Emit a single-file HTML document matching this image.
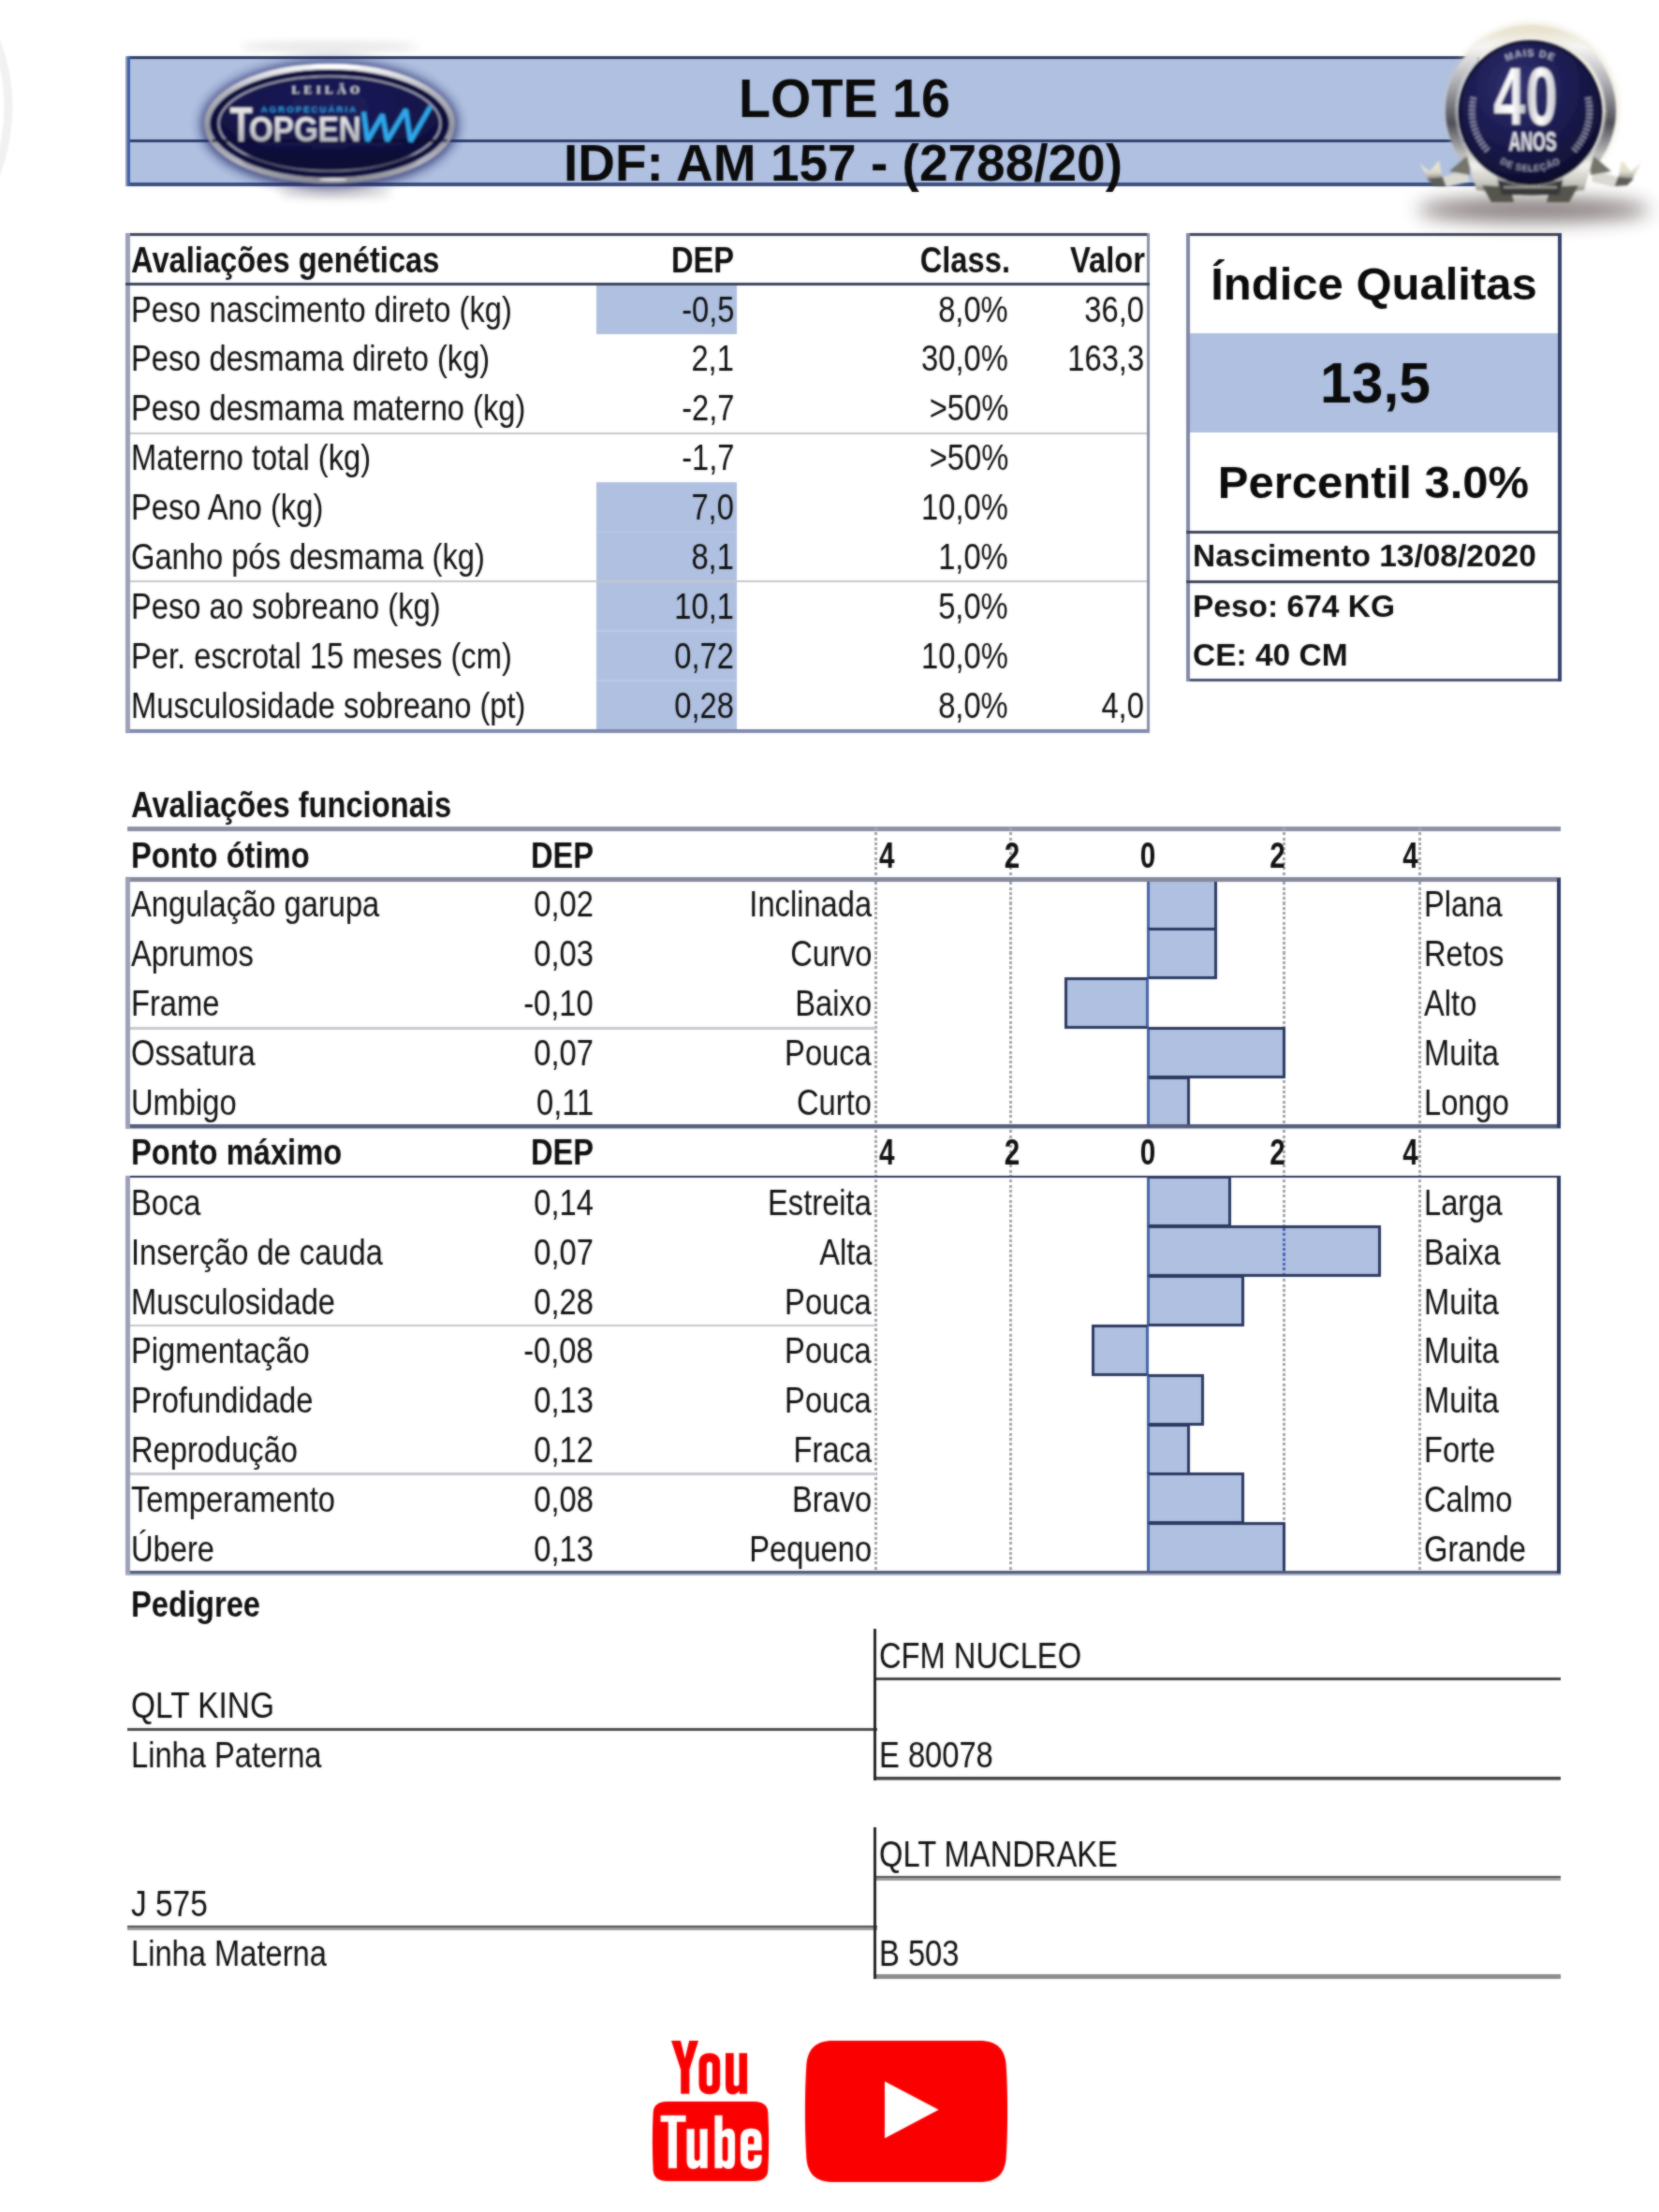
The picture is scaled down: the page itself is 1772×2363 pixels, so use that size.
<!DOCTYPE html>
<html><head><meta charset="utf-8"><title>Lote 16</title>
<style>
html,body{margin:0;padding:0;background:#fff;}
body{width:1772px;height:2363px;position:relative;overflow:hidden;font-family:"Liberation Sans",sans-serif;}
#pg{position:absolute;left:0;top:0;width:1772px;height:2363px;filter:url(#soft);}
.t{position:absolute;white-space:nowrap;line-height:1;}
.r{position:absolute;}
.bar{position:absolute;box-sizing:border-box;background:#afc0e0;border:3px solid #2b3961;}
.dot{position:absolute;width:3px;background-image:repeating-linear-gradient(to bottom,#a2a4ab 0,#a2a4ab 3px,transparent 3px,transparent 5.3px);}
svg{position:absolute;left:0;top:0;overflow:visible;}
</style></head><body><svg width="0" height="0" style="position:absolute"><defs><filter id="soft" x="0" y="0" width="100%" height="100%" color-interpolation-filters="sRGB"><feGaussianBlur stdDeviation="0.85" result="b"/><feComposite in="b" in2="SourceGraphic" operator="arithmetic" k1="0" k2="0.55" k3="0.45" k4="0"/></filter></defs></svg><div id="pg">
<div class="r" style="left:133.50px;top:60.00px;width:1446.50px;height:139.00px;background:#afc0e0;"></div>
<div class="r" style="left:133.50px;top:60.00px;width:1446.50px;height:3.20px;background:#2b3a5e;"></div>
<div class="r" style="left:133.50px;top:148.80px;width:1446.50px;height:3.20px;background:#2c3f6e;"></div>
<div class="r" style="left:133.50px;top:195.00px;width:1446.50px;height:3.50px;background:#3c4f80;"></div>
<div class="r" style="left:133.50px;top:60.00px;width:2.50px;height:139.00px;background:#8f9cc0;"></div>
<div class="r" style="left:136.00px;top:60.00px;width:3.00px;height:139.00px;background:#4060a8;"></div>
<div class="t" style="font-size:56.5px;font-weight:700;color:#0b0b0b;top:78.47px;left:902.00px;transform:translateX(-50%) scaleX(0.985);transform-origin:50% 0;">LOTE 16</div>
<div class="t" style="font-size:55px;font-weight:700;color:#0b0b0b;top:147.04px;left:900.50px;transform:translateX(-50%) scaleX(1.0);transform-origin:50% 0;">IDF: AM 157 - (2788/20)</div>
<div class="r" style="left:637.00px;top:303.90px;width:150.00px;height:52.90px;background:#afc0e0;"></div>
<div class="r" style="left:637.00px;top:515.50px;width:150.00px;height:264.50px;background:#afc0e0;"></div>
<div class="r" style="left:637.00px;top:514.70px;width:150.00px;height:1.60px;background:#bccaea;"></div>
<div class="r" style="left:637.00px;top:567.60px;width:150.00px;height:1.60px;background:#bccaea;"></div>
<div class="r" style="left:637.00px;top:673.40px;width:150.00px;height:1.60px;background:#bccaea;"></div>
<div class="r" style="left:637.00px;top:726.30px;width:150.00px;height:1.60px;background:#bccaea;"></div>
<div class="r" style="left:133.50px;top:249.00px;width:1094.50px;height:3.00px;background:#3c4558;"></div>
<div class="r" style="left:133.50px;top:779.00px;width:1094.50px;height:3.50px;background:#7f89ad;"></div>
<div class="r" style="left:133.50px;top:249.00px;width:5.00px;height:533.00px;background:#9ba0b6;"></div>
<div class="r" style="left:1224.50px;top:249.00px;width:3.50px;height:533.00px;background:#8a90aa;"></div>
<div class="r" style="left:133.50px;top:301.90px;width:1094.50px;height:3.00px;background:#3c4560;"></div>
<div class="r" style="left:138.50px;top:461.60px;width:1086.50px;height:2.20px;background:#c6c8ce;"></div>
<div class="r" style="left:138.50px;top:620.30px;width:1086.50px;height:2.20px;background:#c6c8ce;"></div>
<div class="t" style="font-size:38px;font-weight:700;color:#111;top:258.63px;left:139.50px;transform:scaleX(0.86);transform-origin:0 0;">Avaliações genéticas</div>
<div class="t" style="font-size:38px;font-weight:700;color:#111;top:258.63px;right:988.00px;transform:scaleX(0.86);transform-origin:100% 0;">DEP</div>
<div class="t" style="font-size:38px;font-weight:700;color:#111;top:258.63px;right:693.00px;transform:scaleX(0.86);transform-origin:100% 0;">Class.</div>
<div class="t" style="font-size:38px;font-weight:700;color:#111;top:258.63px;right:549.00px;transform:scaleX(0.86);transform-origin:100% 0;">Valor</div>
<div class="t" style="font-size:38px;font-weight:400;color:#111;top:311.53px;left:139.50px;transform:scaleX(0.86);transform-origin:0 0;">Peso nascimento direto (kg)</div>
<div class="t" style="font-size:38px;font-weight:400;color:#111;top:311.53px;right:988.00px;transform:scaleX(0.86);transform-origin:100% 0;">-0,5</div>
<div class="t" style="font-size:38px;font-weight:400;color:#111;top:311.53px;right:695.00px;transform:scaleX(0.86);transform-origin:100% 0;">8,0%</div>
<div class="t" style="font-size:38px;font-weight:400;color:#111;top:311.53px;right:550.00px;transform:scaleX(0.86);transform-origin:100% 0;">36,0</div>
<div class="t" style="font-size:38px;font-weight:400;color:#111;top:364.43px;left:139.50px;transform:scaleX(0.86);transform-origin:0 0;">Peso desmama direto (kg)</div>
<div class="t" style="font-size:38px;font-weight:400;color:#111;top:364.43px;right:988.00px;transform:scaleX(0.86);transform-origin:100% 0;">2,1</div>
<div class="t" style="font-size:38px;font-weight:400;color:#111;top:364.43px;right:695.00px;transform:scaleX(0.86);transform-origin:100% 0;">30,0%</div>
<div class="t" style="font-size:38px;font-weight:400;color:#111;top:364.43px;right:550.00px;transform:scaleX(0.86);transform-origin:100% 0;">163,3</div>
<div class="t" style="font-size:38px;font-weight:400;color:#111;top:417.33px;left:139.50px;transform:scaleX(0.86);transform-origin:0 0;">Peso desmama materno (kg)</div>
<div class="t" style="font-size:38px;font-weight:400;color:#111;top:417.33px;right:988.00px;transform:scaleX(0.86);transform-origin:100% 0;">-2,7</div>
<div class="t" style="font-size:38px;font-weight:400;color:#111;top:417.33px;right:695.00px;transform:scaleX(0.86);transform-origin:100% 0;">&gt;50%</div>
<div class="t" style="font-size:38px;font-weight:400;color:#111;top:470.23px;left:139.50px;transform:scaleX(0.86);transform-origin:0 0;">Materno total (kg)</div>
<div class="t" style="font-size:38px;font-weight:400;color:#111;top:470.23px;right:988.00px;transform:scaleX(0.86);transform-origin:100% 0;">-1,7</div>
<div class="t" style="font-size:38px;font-weight:400;color:#111;top:470.23px;right:695.00px;transform:scaleX(0.86);transform-origin:100% 0;">&gt;50%</div>
<div class="t" style="font-size:38px;font-weight:400;color:#111;top:523.13px;left:139.50px;transform:scaleX(0.86);transform-origin:0 0;">Peso Ano (kg)</div>
<div class="t" style="font-size:38px;font-weight:400;color:#111;top:523.13px;right:988.00px;transform:scaleX(0.86);transform-origin:100% 0;">7,0</div>
<div class="t" style="font-size:38px;font-weight:400;color:#111;top:523.13px;right:695.00px;transform:scaleX(0.86);transform-origin:100% 0;">10,0%</div>
<div class="t" style="font-size:38px;font-weight:400;color:#111;top:576.03px;left:139.50px;transform:scaleX(0.86);transform-origin:0 0;">Ganho pós desmama (kg)</div>
<div class="t" style="font-size:38px;font-weight:400;color:#111;top:576.03px;right:988.00px;transform:scaleX(0.86);transform-origin:100% 0;">8,1</div>
<div class="t" style="font-size:38px;font-weight:400;color:#111;top:576.03px;right:695.00px;transform:scaleX(0.86);transform-origin:100% 0;">1,0%</div>
<div class="t" style="font-size:38px;font-weight:400;color:#111;top:628.93px;left:139.50px;transform:scaleX(0.86);transform-origin:0 0;">Peso ao sobreano (kg)</div>
<div class="t" style="font-size:38px;font-weight:400;color:#111;top:628.93px;right:988.00px;transform:scaleX(0.86);transform-origin:100% 0;">10,1</div>
<div class="t" style="font-size:38px;font-weight:400;color:#111;top:628.93px;right:695.00px;transform:scaleX(0.86);transform-origin:100% 0;">5,0%</div>
<div class="t" style="font-size:38px;font-weight:400;color:#111;top:681.83px;left:139.50px;transform:scaleX(0.86);transform-origin:0 0;">Per. escrotal 15 meses (cm)</div>
<div class="t" style="font-size:38px;font-weight:400;color:#111;top:681.83px;right:988.00px;transform:scaleX(0.86);transform-origin:100% 0;">0,72</div>
<div class="t" style="font-size:38px;font-weight:400;color:#111;top:681.83px;right:695.00px;transform:scaleX(0.86);transform-origin:100% 0;">10,0%</div>
<div class="t" style="font-size:38px;font-weight:400;color:#111;top:734.73px;left:139.50px;transform:scaleX(0.86);transform-origin:0 0;">Musculosidade sobreano (pt)</div>
<div class="t" style="font-size:38px;font-weight:400;color:#111;top:734.73px;right:988.00px;transform:scaleX(0.86);transform-origin:100% 0;">0,28</div>
<div class="t" style="font-size:38px;font-weight:400;color:#111;top:734.73px;right:695.00px;transform:scaleX(0.86);transform-origin:100% 0;">8,0%</div>
<div class="t" style="font-size:38px;font-weight:400;color:#111;top:734.73px;right:550.00px;transform:scaleX(0.86);transform-origin:100% 0;">4,0</div>
<div class="r" style="left:1267.00px;top:355.50px;width:401.00px;height:106.00px;background:#afc0e0;"></div>
<div class="r" style="left:1267.00px;top:249.00px;width:401.00px;height:3.00px;background:#3c4558;"></div>
<div class="r" style="left:1267.00px;top:724.50px;width:401.00px;height:3.50px;background:#4a5575;"></div>
<div class="r" style="left:1267.00px;top:249.00px;width:4.00px;height:479.00px;background:#8088a6;"></div>
<div class="r" style="left:1664.00px;top:249.00px;width:4.00px;height:479.00px;background:#35426a;"></div>
<div class="r" style="left:1267.00px;top:566.50px;width:401.00px;height:3.00px;background:#3c4558;"></div>
<div class="r" style="left:1267.00px;top:619.50px;width:401.00px;height:3.00px;background:#3c4558;"></div>
<div class="t" style="font-size:49px;font-weight:700;color:#0b0b0b;top:278.52px;left:1467.50px;transform:translateX(-50%) scaleX(1.0);transform-origin:50% 0;">Índice Qualitas</div>
<div class="t" style="font-size:60.5px;font-weight:700;color:#0b0b0b;top:379.09px;left:1469.00px;transform:translateX(-50%) scaleX(1.0);transform-origin:50% 0;">13,5</div>
<div class="t" style="font-size:49px;font-weight:700;color:#0b0b0b;top:490.52px;left:1467.00px;transform:translateX(-50%) scaleX(1.0);transform-origin:50% 0;">Percentil 3.0%</div>
<div class="t" style="font-size:33px;font-weight:700;color:#111;top:577.27px;left:1274.00px;transform:scaleX(1.015);transform-origin:0 0;">Nascimento 13/08/2020</div>
<div class="t" style="font-size:33px;font-weight:700;color:#111;top:630.67px;left:1274.00px;transform:scaleX(1.015);transform-origin:0 0;">Peso: 674 KG</div>
<div class="t" style="font-size:33px;font-weight:700;color:#111;top:683.47px;left:1274.00px;transform:scaleX(1.015);transform-origin:0 0;">CE: 40 CM</div>
<div class="t" style="font-size:38px;font-weight:700;color:#111;top:841.13px;left:139.50px;transform:scaleX(0.86);transform-origin:0 0;">Avaliações funcionais</div>
<div class="r" style="left:135.50px;top:883.00px;width:1531.50px;height:5.00px;background:#8d91a4;"></div>
<div class="dot" style="left:934px;top:884.00px;height:797.00px"></div>
<div class="dot" style="left:1078px;top:884.00px;height:797.00px"></div>
<div class="dot" style="left:1370px;top:884.00px;height:797.00px"></div>
<div class="dot" style="left:1515px;top:884.00px;height:797.00px"></div>
<div class="t" style="font-size:38px;font-weight:700;color:#111;top:895.13px;left:139.50px;transform:scaleX(0.86);transform-origin:0 0;">Ponto ótimo</div>
<div class="t" style="font-size:38px;font-weight:700;color:#111;top:895.13px;right:1138.00px;transform:scaleX(0.86);transform-origin:100% 0;">DEP</div>
<div class="t" style="font-size:39px;font-weight:700;color:#111;top:894.29px;left:939.00px;transform:scaleX(0.76);transform-origin:0 0;">4</div>
<div class="t" style="font-size:39px;font-weight:700;color:#111;top:894.29px;left:1080.50px;transform:translateX(-50%) scaleX(0.76);transform-origin:50% 0;">2</div>
<div class="t" style="font-size:39px;font-weight:700;color:#111;top:894.29px;left:1226.00px;transform:translateX(-50%) scaleX(0.76);transform-origin:50% 0;">0</div>
<div class="t" style="font-size:39px;font-weight:700;color:#111;top:894.29px;right:399.50px;transform:scaleX(0.76);transform-origin:100% 0;">2</div>
<div class="t" style="font-size:39px;font-weight:700;color:#111;top:894.29px;right:257.00px;transform:scaleX(0.76);transform-origin:100% 0;">4</div>
<div class="r" style="left:138.50px;top:1097.20px;width:797.00px;height:2.40px;background:#c6c8ce;"></div>
<div class="t" style="font-size:38px;font-weight:400;color:#111;top:947.13px;left:139.50px;transform:scaleX(0.86);transform-origin:0 0;">Angulação garupa</div>
<div class="t" style="font-size:38px;font-weight:400;color:#111;top:947.13px;right:1138.00px;transform:scaleX(0.86);transform-origin:100% 0;">0,02</div>
<div class="t" style="font-size:38px;font-weight:400;color:#111;top:947.13px;right:841.00px;transform:scaleX(0.86);transform-origin:100% 0;">Inclinada</div>
<div class="t" style="font-size:38px;font-weight:400;color:#111;top:947.13px;left:1521.00px;transform:scaleX(0.86);transform-origin:0 0;">Plana</div>
<div class="bar" style="left:1224.50px;top:938.50px;width:75.75px;height:55.10px;border-left:3px solid #4563a8;"></div>
<div class="t" style="font-size:38px;font-weight:400;color:#111;top:1000.03px;left:139.50px;transform:scaleX(0.86);transform-origin:0 0;">Aprumos</div>
<div class="t" style="font-size:38px;font-weight:400;color:#111;top:1000.03px;right:1138.00px;transform:scaleX(0.86);transform-origin:100% 0;">0,03</div>
<div class="t" style="font-size:38px;font-weight:400;color:#111;top:1000.03px;right:841.00px;transform:scaleX(0.86);transform-origin:100% 0;">Curvo</div>
<div class="t" style="font-size:38px;font-weight:400;color:#111;top:1000.03px;left:1521.00px;transform:scaleX(0.86);transform-origin:0 0;">Retos</div>
<div class="bar" style="left:1224.50px;top:991.40px;width:75.75px;height:55.10px;border-left:3px solid #4563a8;"></div>
<div class="t" style="font-size:38px;font-weight:400;color:#111;top:1052.93px;left:139.50px;transform:scaleX(0.86);transform-origin:0 0;">Frame</div>
<div class="t" style="font-size:38px;font-weight:400;color:#111;top:1052.93px;right:1138.00px;transform:scaleX(0.86);transform-origin:100% 0;">-0,10</div>
<div class="t" style="font-size:38px;font-weight:400;color:#111;top:1052.93px;right:841.00px;transform:scaleX(0.86);transform-origin:100% 0;">Baixo</div>
<div class="t" style="font-size:38px;font-weight:400;color:#111;top:1052.93px;left:1521.00px;transform:scaleX(0.86);transform-origin:0 0;">Alto</div>
<div class="bar" style="left:1137.20px;top:1044.30px;width:90.30px;height:55.10px;border-right:3px solid #4563a8;"></div>
<div class="t" style="font-size:38px;font-weight:400;color:#111;top:1105.83px;left:139.50px;transform:scaleX(0.86);transform-origin:0 0;">Ossatura</div>
<div class="t" style="font-size:38px;font-weight:400;color:#111;top:1105.83px;right:1138.00px;transform:scaleX(0.86);transform-origin:100% 0;">0,07</div>
<div class="t" style="font-size:38px;font-weight:400;color:#111;top:1105.83px;right:841.00px;transform:scaleX(0.86);transform-origin:100% 0;">Pouca</div>
<div class="t" style="font-size:38px;font-weight:400;color:#111;top:1105.83px;left:1521.00px;transform:scaleX(0.86);transform-origin:0 0;">Muita</div>
<div class="bar" style="left:1224.50px;top:1097.20px;width:148.50px;height:55.10px;border-left:3px solid #4563a8;"></div>
<div class="t" style="font-size:38px;font-weight:400;color:#111;top:1158.73px;left:139.50px;transform:scaleX(0.86);transform-origin:0 0;">Umbigo</div>
<div class="t" style="font-size:38px;font-weight:400;color:#111;top:1158.73px;right:1138.00px;transform:scaleX(0.86);transform-origin:100% 0;">0,11</div>
<div class="t" style="font-size:38px;font-weight:400;color:#111;top:1158.73px;right:841.00px;transform:scaleX(0.86);transform-origin:100% 0;">Curto</div>
<div class="t" style="font-size:38px;font-weight:400;color:#111;top:1158.73px;left:1521.00px;transform:scaleX(0.86);transform-origin:0 0;">Longo</div>
<div class="bar" style="left:1224.50px;top:1150.10px;width:46.65px;height:55.10px;border-left:3px solid #4563a8;"></div>
<div class="r" style="left:133.50px;top:937.00px;width:1533.50px;height:5.20px;background:#858a9c;"></div>
<div class="r" style="left:133.50px;top:1201.00px;width:1533.50px;height:3.50px;background:#525c7c;"></div>
<div class="r" style="left:133.50px;top:1204.50px;width:1533.50px;height:1.80px;background:#aab0c4;"></div>
<div class="r" style="left:133.50px;top:938.00px;width:5.00px;height:266.50px;background:#9ba0b6;"></div>
<div class="r" style="left:1663.00px;top:938.00px;width:4.00px;height:266.50px;background:#2c3860;"></div>
<div class="t" style="font-size:38px;font-weight:700;color:#111;top:1212.13px;left:139.50px;transform:scaleX(0.86);transform-origin:0 0;">Ponto máximo</div>
<div class="t" style="font-size:38px;font-weight:700;color:#111;top:1212.13px;right:1138.00px;transform:scaleX(0.86);transform-origin:100% 0;">DEP</div>
<div class="t" style="font-size:39px;font-weight:700;color:#111;top:1211.29px;left:939.00px;transform:scaleX(0.76);transform-origin:0 0;">4</div>
<div class="t" style="font-size:39px;font-weight:700;color:#111;top:1211.29px;left:1080.50px;transform:translateX(-50%) scaleX(0.76);transform-origin:50% 0;">2</div>
<div class="t" style="font-size:39px;font-weight:700;color:#111;top:1211.29px;left:1226.00px;transform:translateX(-50%) scaleX(0.76);transform-origin:50% 0;">0</div>
<div class="t" style="font-size:39px;font-weight:700;color:#111;top:1211.29px;right:399.50px;transform:scaleX(0.76);transform-origin:100% 0;">2</div>
<div class="t" style="font-size:39px;font-weight:700;color:#111;top:1211.29px;right:257.00px;transform:scaleX(0.76);transform-origin:100% 0;">4</div>
<div class="r" style="left:138.50px;top:1414.70px;width:797.00px;height:2.40px;background:#c6c8ce;"></div>
<div class="r" style="left:138.50px;top:1573.40px;width:797.00px;height:2.40px;background:#c6c8ce;"></div>
<div class="t" style="font-size:38px;font-weight:400;color:#111;top:1265.73px;left:139.50px;transform:scaleX(0.86);transform-origin:0 0;">Boca</div>
<div class="t" style="font-size:38px;font-weight:400;color:#111;top:1265.73px;right:1138.00px;transform:scaleX(0.86);transform-origin:100% 0;">0,14</div>
<div class="t" style="font-size:38px;font-weight:400;color:#111;top:1265.73px;right:841.00px;transform:scaleX(0.86);transform-origin:100% 0;">Estreita</div>
<div class="t" style="font-size:38px;font-weight:400;color:#111;top:1265.73px;left:1521.00px;transform:scaleX(0.86);transform-origin:0 0;">Larga</div>
<div class="bar" style="left:1224.50px;top:1256.00px;width:90.30px;height:55.10px;border-left:3px solid #4563a8;"></div>
<div class="t" style="font-size:38px;font-weight:400;color:#111;top:1318.63px;left:139.50px;transform:scaleX(0.86);transform-origin:0 0;">Inserção de cauda</div>
<div class="t" style="font-size:38px;font-weight:400;color:#111;top:1318.63px;right:1138.00px;transform:scaleX(0.86);transform-origin:100% 0;">0,07</div>
<div class="t" style="font-size:38px;font-weight:400;color:#111;top:1318.63px;right:841.00px;transform:scaleX(0.86);transform-origin:100% 0;">Alta</div>
<div class="t" style="font-size:38px;font-weight:400;color:#111;top:1318.63px;left:1521.00px;transform:scaleX(0.86);transform-origin:0 0;">Baixa</div>
<div class="bar" style="left:1224.50px;top:1308.90px;width:250.35px;height:55.10px;border-left:3px solid #4563a8;"></div>
<div class="dot" style="left:1370px;top:1311.90px;height:48.90px;background-image:repeating-linear-gradient(to bottom,#4a66c0 0,#4a66c0 3px,transparent 3px,transparent 5.3px)"></div>
<div class="t" style="font-size:38px;font-weight:400;color:#111;top:1371.53px;left:139.50px;transform:scaleX(0.86);transform-origin:0 0;">Musculosidade</div>
<div class="t" style="font-size:38px;font-weight:400;color:#111;top:1371.53px;right:1138.00px;transform:scaleX(0.86);transform-origin:100% 0;">0,28</div>
<div class="t" style="font-size:38px;font-weight:400;color:#111;top:1371.53px;right:841.00px;transform:scaleX(0.86);transform-origin:100% 0;">Pouca</div>
<div class="t" style="font-size:38px;font-weight:400;color:#111;top:1371.53px;left:1521.00px;transform:scaleX(0.86);transform-origin:0 0;">Muita</div>
<div class="bar" style="left:1224.50px;top:1361.80px;width:104.85px;height:55.10px;border-left:3px solid #4563a8;"></div>
<div class="t" style="font-size:38px;font-weight:400;color:#111;top:1424.43px;left:139.50px;transform:scaleX(0.86);transform-origin:0 0;">Pigmentação</div>
<div class="t" style="font-size:38px;font-weight:400;color:#111;top:1424.43px;right:1138.00px;transform:scaleX(0.86);transform-origin:100% 0;">-0,08</div>
<div class="t" style="font-size:38px;font-weight:400;color:#111;top:1424.43px;right:841.00px;transform:scaleX(0.86);transform-origin:100% 0;">Pouca</div>
<div class="t" style="font-size:38px;font-weight:400;color:#111;top:1424.43px;left:1521.00px;transform:scaleX(0.86);transform-origin:0 0;">Muita</div>
<div class="bar" style="left:1166.30px;top:1414.70px;width:61.20px;height:55.10px;border-right:3px solid #4563a8;"></div>
<div class="t" style="font-size:38px;font-weight:400;color:#111;top:1477.33px;left:139.50px;transform:scaleX(0.86);transform-origin:0 0;">Profundidade</div>
<div class="t" style="font-size:38px;font-weight:400;color:#111;top:1477.33px;right:1138.00px;transform:scaleX(0.86);transform-origin:100% 0;">0,13</div>
<div class="t" style="font-size:38px;font-weight:400;color:#111;top:1477.33px;right:841.00px;transform:scaleX(0.86);transform-origin:100% 0;">Pouca</div>
<div class="t" style="font-size:38px;font-weight:400;color:#111;top:1477.33px;left:1521.00px;transform:scaleX(0.86);transform-origin:0 0;">Muita</div>
<div class="bar" style="left:1224.50px;top:1467.60px;width:61.20px;height:55.10px;border-left:3px solid #4563a8;"></div>
<div class="t" style="font-size:38px;font-weight:400;color:#111;top:1530.23px;left:139.50px;transform:scaleX(0.86);transform-origin:0 0;">Reprodução</div>
<div class="t" style="font-size:38px;font-weight:400;color:#111;top:1530.23px;right:1138.00px;transform:scaleX(0.86);transform-origin:100% 0;">0,12</div>
<div class="t" style="font-size:38px;font-weight:400;color:#111;top:1530.23px;right:841.00px;transform:scaleX(0.86);transform-origin:100% 0;">Fraca</div>
<div class="t" style="font-size:38px;font-weight:400;color:#111;top:1530.23px;left:1521.00px;transform:scaleX(0.86);transform-origin:0 0;">Forte</div>
<div class="bar" style="left:1224.50px;top:1520.50px;width:46.65px;height:55.10px;border-left:3px solid #4563a8;"></div>
<div class="t" style="font-size:38px;font-weight:400;color:#111;top:1583.13px;left:139.50px;transform:scaleX(0.86);transform-origin:0 0;">Temperamento</div>
<div class="t" style="font-size:38px;font-weight:400;color:#111;top:1583.13px;right:1138.00px;transform:scaleX(0.86);transform-origin:100% 0;">0,08</div>
<div class="t" style="font-size:38px;font-weight:400;color:#111;top:1583.13px;right:841.00px;transform:scaleX(0.86);transform-origin:100% 0;">Bravo</div>
<div class="t" style="font-size:38px;font-weight:400;color:#111;top:1583.13px;left:1521.00px;transform:scaleX(0.86);transform-origin:0 0;">Calmo</div>
<div class="bar" style="left:1224.50px;top:1573.40px;width:104.85px;height:55.10px;border-left:3px solid #4563a8;"></div>
<div class="t" style="font-size:38px;font-weight:400;color:#111;top:1636.03px;left:139.50px;transform:scaleX(0.86);transform-origin:0 0;">Úbere</div>
<div class="t" style="font-size:38px;font-weight:400;color:#111;top:1636.03px;right:1138.00px;transform:scaleX(0.86);transform-origin:100% 0;">0,13</div>
<div class="t" style="font-size:38px;font-weight:400;color:#111;top:1636.03px;right:841.00px;transform:scaleX(0.86);transform-origin:100% 0;">Pequeno</div>
<div class="t" style="font-size:38px;font-weight:400;color:#111;top:1636.03px;left:1521.00px;transform:scaleX(0.86);transform-origin:0 0;">Grande</div>
<div class="bar" style="left:1224.50px;top:1626.30px;width:148.50px;height:55.10px;border-left:3px solid #4563a8;"></div>
<div class="r" style="left:133.50px;top:1255.50px;width:1533.50px;height:2.00px;background:#2e3a5c;"></div>
<div class="r" style="left:133.50px;top:1677.50px;width:1533.50px;height:3.50px;background:#525c7c;"></div>
<div class="r" style="left:133.50px;top:1681.00px;width:1533.50px;height:1.80px;background:#aab0c4;"></div>
<div class="r" style="left:133.50px;top:1255.50px;width:5.00px;height:425.50px;background:#9ba0b6;"></div>
<div class="r" style="left:1663.00px;top:1255.50px;width:4.00px;height:425.50px;background:#2c3860;"></div>
<div class="t" style="font-size:38px;font-weight:700;color:#111;top:1695.33px;left:139.50px;transform:scaleX(0.86);transform-origin:0 0;">Pedigree</div>
<div class="t" style="font-size:38px;font-weight:400;color:#111;top:1750.33px;left:939.00px;transform:scaleX(0.86);transform-origin:0 0;">CFM NUCLEO</div>
<div class="t" style="font-size:38px;font-weight:400;color:#111;top:1802.63px;left:139.50px;transform:scaleX(0.88);transform-origin:0 0;">QLT KING</div>
<div class="t" style="font-size:38px;font-weight:400;color:#111;top:1855.83px;left:139.50px;transform:scaleX(0.86);transform-origin:0 0;">Linha Paterna</div>
<div class="t" style="font-size:38px;font-weight:400;color:#111;top:1855.83px;left:939.00px;transform:scaleX(0.86);transform-origin:0 0;">E 80078</div>
<div class="r" style="left:934.50px;top:1792.00px;width:732.50px;height:3.00px;background:#454545;"></div>
<div class="r" style="left:135.50px;top:1845.50px;width:801.00px;height:3.00px;background:#4c4c4c;"></div>
<div class="r" style="left:934.50px;top:1898.00px;width:732.50px;height:2.60px;background:#444;"></div>
<div class="r" style="left:934.50px;top:1900.50px;width:732.50px;height:1.60px;background:#9a9a9a;"></div>
<div class="r" style="left:933.00px;top:1739.50px;width:3.40px;height:162.50px;background:#252525;"></div>
<div class="t" style="font-size:38px;font-weight:400;color:#111;top:1962.33px;left:939.00px;transform:scaleX(0.86);transform-origin:0 0;">QLT MANDRAKE</div>
<div class="t" style="font-size:38px;font-weight:400;color:#111;top:2014.63px;left:139.50px;transform:scaleX(0.88);transform-origin:0 0;">J 575</div>
<div class="t" style="font-size:38px;font-weight:400;color:#111;top:2067.83px;left:139.50px;transform:scaleX(0.86);transform-origin:0 0;">Linha Materna</div>
<div class="t" style="font-size:38px;font-weight:400;color:#111;top:2067.83px;left:939.00px;transform:scaleX(0.86);transform-origin:0 0;">B 503</div>
<div class="r" style="left:934.50px;top:2003.50px;width:732.50px;height:2.20px;background:#555;"></div>
<div class="r" style="left:934.50px;top:2005.70px;width:732.50px;height:3.00px;background:#9c9c9c;"></div>
<div class="r" style="left:135.50px;top:2057.00px;width:801.00px;height:2.20px;background:#555;"></div>
<div class="r" style="left:135.50px;top:2059.20px;width:801.00px;height:2.40px;background:#9c9c9c;"></div>
<div class="r" style="left:934.50px;top:2109.00px;width:732.50px;height:5.20px;background:#8c8c8c;"></div>
<div class="r" style="left:933.00px;top:1951.50px;width:3.40px;height:162.50px;background:#252525;"></div>
<svg width="40" height="260" viewBox="0 0 40 260"><path d="M-4,44 Q22,112 -4,186" fill="none" stroke="#f1f1f1" stroke-width="9"/></svg>
<svg width="1772" height="2363" viewBox="0 0 1772 2363">
<defs>
<filter id="lb8" x="-20%" y="-30%" width="140%" height="160%"><feGaussianBlur stdDeviation="6"/></filter>
<filter id="lb1" x="-10%" y="-10%" width="120%" height="120%"><feGaussianBlur stdDeviation="0.9"/></filter>
<filter id="lb2" x="-10%" y="-50%" width="120%" height="200%"><feGaussianBlur stdDeviation="2"/></filter>
<filter id="lb4" x="-20%" y="-300%" width="140%" height="700%"><feGaussianBlur stdDeviation="4"/></filter>
<linearGradient id="lsil" x1="0" y1="0" x2="0" y2="1">
<stop offset="0" stop-color="#f4f4f6"/><stop offset="0.22" stop-color="#b3b5be"/><stop offset="0.55" stop-color="#9294a2"/><stop offset="0.85" stop-color="#b4b5be"/><stop offset="1" stop-color="#8c8d96"/>
</linearGradient>
<radialGradient id="lnavy" cx="0.5" cy="0.32" r="0.7">
<stop offset="0" stop-color="#1d1d5c"/><stop offset="0.6" stop-color="#15154c"/><stop offset="1" stop-color="#0b0b32"/>
</radialGradient>
<linearGradient id="ltxt" x1="0" y1="0" x2="0" y2="1">
<stop offset="0" stop-color="#f4f4f4"/><stop offset="0.5" stop-color="#cfcfd4"/><stop offset="1" stop-color="#a2a2ac"/>
</linearGradient>
</defs>
<ellipse cx="352" cy="50" rx="95" ry="5" fill="#555" opacity="0.16" filter="url(#lb4)"/>
<ellipse cx="358" cy="207" rx="60" ry="5" fill="#444" opacity="0.22" filter="url(#lb4)"/>
<ellipse cx="352" cy="133" rx="137" ry="68" fill="#232868" opacity="0.85" filter="url(#lb8)"/>
<g filter="url(#lb1)">
<ellipse cx="352" cy="132" rx="131" ry="61" fill="#0e0e3e" stroke="url(#lsil)" stroke-width="6.5"/>
<ellipse cx="352" cy="132" rx="118.5" ry="50.5" fill="url(#lnavy)" stroke="#b5b6c6" stroke-width="2.2" stroke-opacity="0.85"/>
<ellipse cx="358" cy="71" rx="28" ry="2.6" fill="#fff" opacity="0.95"/>
<ellipse cx="356" cy="191.8" rx="15" ry="1.8" fill="#e8e8ea" opacity="0.8"/>
<ellipse cx="352" cy="170" rx="92" ry="13" fill="#0a0a30" opacity="0.55" filter="url(#lb2)"/>
<rect x="226" y="148.8" width="252" height="3" fill="#070728" opacity="0.7"/>
<text x="350" y="99.8" font-family="Liberation Serif" font-weight="700" font-size="13" letter-spacing="4.4" text-anchor="middle" fill="#dcdce6">LEILÃO</text>
<text x="330.5" y="119.6" font-family="Liberation Sans" font-weight="700" font-size="9.5" letter-spacing="2.1" text-anchor="middle" fill="#2c9be0">AGROPECUÁRIA</text>
<g fill="url(#ltxt)" font-family="Liberation Sans" font-weight="700">
<text transform="translate(245.5,151.3) scale(0.78,1)" font-size="51">T</text>
<text transform="translate(266,151.3) scale(0.885,1)" font-size="37.5">OPGEN</text>
</g>
<polyline points="388.5,119.5 392.5,150.5 408.5,122.5 413.5,150.5 433.5,117 438.5,151 460,113.5" fill="none" stroke="#2ea7ea" stroke-width="5" stroke-linejoin="bevel"/>
</g>
</svg>

<svg width="1772" height="2363" viewBox="0 0 1772 2363">
<defs>
<filter id="bb10" x="-30%" y="-150%" width="160%" height="400%"><feGaussianBlur stdDeviation="10"/></filter>
<filter id="bb1" x="-10%" y="-10%" width="120%" height="120%"><feGaussianBlur stdDeviation="0.9"/></filter>
<filter id="bb3" x="-20%" y="-20%" width="140%" height="140%"><feGaussianBlur stdDeviation="3"/></filter>
<linearGradient id="bsil" x1="0" y1="0" x2="0" y2="1">
<stop offset="0" stop-color="#e9e3cf"/><stop offset="0.10" stop-color="#f6f6f6"/><stop offset="0.34" stop-color="#a8a8ae"/><stop offset="0.58" stop-color="#4e4e56"/><stop offset="0.78" stop-color="#bdbdbf"/><stop offset="1" stop-color="#77777a"/>
</linearGradient>
<radialGradient id="bnavy" cx="0.42" cy="0.32" r="0.72">
<stop offset="0" stop-color="#333372"/><stop offset="0.45" stop-color="#1e1e56"/><stop offset="0.85" stop-color="#12123a"/><stop offset="1" stop-color="#080824"/>
</radialGradient>
<linearGradient id="b40" x1="0" y1="0" x2="1" y2="0">
<stop offset="0" stop-color="#e8e8ea"/><stop offset="0.3" stop-color="#ffffff"/><stop offset="0.5" stop-color="#b9b9c2"/><stop offset="0.72" stop-color="#ffffff"/><stop offset="1" stop-color="#c4c4cc"/>
</linearGradient>
<linearGradient id="brib" x1="0" y1="0" x2="0" y2="1">
<stop offset="0" stop-color="#f4f0e2"/><stop offset="0.35" stop-color="#c8c8c8"/><stop offset="1" stop-color="#3c3c3c"/>
</linearGradient>
<path id="arcTop" d="M1574.5,120 A60,60 0 0 1 1694.5,120"/>
<path id="arcBot" d="M1571.5,120 A63,63 0 0 0 1697.5,120"/>
<linearGradient id="brib2" x1="0" y1="0" x2="0" y2="1"><stop offset="0" stop-color="#efe6c8"/><stop offset="0.6" stop-color="#e0ddd0"/><stop offset="1" stop-color="#8a8a84"/></linearGradient>
<linearGradient id="brib3" x1="0" y1="0" x2="0" y2="1"><stop offset="0" stop-color="#b9b9b2"/><stop offset="0.35" stop-color="#f3f3ee"/><stop offset="0.8" stop-color="#c4c4bc"/><stop offset="1" stop-color="#77776f"/></linearGradient>
</defs>
<ellipse cx="1638" cy="224" rx="124" ry="13" fill="#3a2c2c" opacity="0.62" filter="url(#bb10)"/>
<ellipse cx="1636" cy="116" rx="93" ry="92" fill="#d9cfae" opacity="0.4" filter="url(#bb3)"/>
<g filter="url(#bb1)">
<circle cx="1635" cy="118" r="85" fill="none" stroke="url(#bsil)" stroke-width="12"/>
<!-- ribbons -->
<polygon points="1516,174 1527,183 1537,171 1541,192 1526,192" fill="url(#brib2)" />
<polygon points="1753.0,174 1742.0,183 1732.0,171 1728.0,192 1743.0,192" fill="url(#brib2)" />
<polygon points="1524,191 1541,189 1545,199 1531,198" fill="#5e5e58" />
<polygon points="1745.0,191 1728.0,189 1724.0,199 1738.0,198" fill="#5e5e58" />
<polygon points="1541,189 1567,181 1569,194 1545,200" fill="#d9d9d2" />
<polygon points="1728.0,189 1702.0,181 1700.0,194 1724.0,200" fill="#d9d9d2" />
<polygon points="1548,183 1570,164 1570,187" fill="#74746c" />
<polygon points="1721.0,183 1699.0,164 1699.0,187" fill="#74746c" />
<polygon points="1565,160 1597,170 1601,206 1577,203" fill="url(#brib3)" />
<polygon points="1704.0,160 1672.0,170 1668.0,206 1692.0,203" fill="url(#brib3)" />
<polygon points="1583,198 1613,200 1617,216 1593,216" fill="#54544e" />
<polygon points="1686.0,198 1656.0,200 1652.0,216 1676.0,216" fill="#54544e" />
<polygon points="1600,193 1669,193 1665,208 1604,208" fill="#38383a"/>
<rect x="1606" y="199" width="57" height="2.2" fill="#9a9a92"/>

<circle cx="1634.5" cy="120" r="75.5" fill="url(#bnavy)" stroke="#0b0b2c" stroke-width="3"/>
<circle cx="1635" cy="118.5" r="80" fill="none" stroke="#e9e9ee" stroke-width="1.6" stroke-dasharray="2 1.6" opacity="0.7"/>
<g fill="url(#b40)" font-family="Liberation Sans" font-weight="700">
<text transform="translate(1629.5,132.8) scale(0.70,1)" font-size="88" text-anchor="middle">40</text>
</g>
<text transform="translate(1637,161.2) scale(0.60,1)" font-family="Liberation Sans" font-weight="700" font-size="29.5" text-anchor="middle" fill="#e6e6ee">ANOS</text>
<text font-family="Liberation Sans" font-weight="700" font-size="10.5" fill="#c9c9dc" opacity="0.85" letter-spacing="1.2"><textPath href="#arcTop" startOffset="50%" text-anchor="middle">MAIS DE</textPath></text>
<text font-family="Liberation Sans" font-weight="700" font-size="9.5" fill="#b9b9d0" opacity="0.8" letter-spacing="0.7"><textPath href="#arcBot" startOffset="50%" text-anchor="middle">DE SELEÇÃO</textPath></text>
<!-- laurels -->
<path d="M1574,104 A62,62 0 0 0 1590,162" fill="none" stroke="#b4b4cc" stroke-width="7" stroke-dasharray="2.2 2" opacity="0.75"/>
<path d="M1696,104 A62,62 0 0 1 1680,162" fill="none" stroke="#b4b4cc" stroke-width="7" stroke-dasharray="2.2 2" opacity="0.75"/>
</g>
</svg>

<svg width="1772" height="2363" viewBox="0 0 1772 2363">
<g fill="#fb0000">
<path d="M717,2180 H727 L731.6,2199 L736.2,2180 H746 L736.4,2211 V2236.7 H727.2 V2211 Z"/>
<path fill-rule="evenodd" d="M757.8,2193.3 Q769.2,2193.3 769.2,2205 V2225.5 Q769.2,2237.2 757.8,2237.2 Q746.5,2237.2 746.5,2225.5 V2205 Q746.5,2193.3 757.8,2193.3 Z M757.8,2202.5 Q754.8,2202.5 754.8,2206 V2225 Q754.8,2228.6 757.8,2228.6 Q760.9,2228.6 760.9,2225 V2206 Q760.9,2202.5 757.8,2202.5 Z"/>
<path d="M775,2193.3 H783.7 V2225 Q783.7,2228.6 786.6,2228.6 Q789.5,2228.6 789.5,2225 V2193.3 H798.1 V2236.7 H789.8 V2233.4 Q786.5,2237.4 782.5,2237.4 Q775,2237.4 775,2228 Z"/>
<path d="M712,2245 H806 C814,2245 819.5,2248.5 820.3,2256 C821.4,2277 821.4,2298 820.3,2319 C819.5,2326.5 814,2330 806,2330 H712 C704,2330 698.5,2326.5 697.7,2319 C696.6,2298 696.6,2277 697.7,2256 C698.5,2248.5 704,2245 712,2245 Z"/>
<path d="M890,2180 H1046 C1066,2180 1073,2190 1074.6,2205 C1076.6,2235 1076.6,2276 1074.6,2306 C1073,2321 1066,2331 1046,2331 H890 C870,2331 863,2321 861.4,2306 C859.4,2276 859.4,2235 861.4,2205 C863,2190 870,2180 890,2180 Z"/>
</g>
<g fill="#fff">
<path d="M705.6,2259.8 H732.6 V2266.8 H722.9 V2316.2 H713.8 V2266.8 H705.6 Z"/>
<path d="M733.5,2274.3 H741.7 V2304.5 Q741.7,2308.3 744.6,2308.3 Q747.5,2308.3 747.5,2304.5 V2274.3 H755.7 V2316.2 H747.8 V2313 Q744.5,2317 740.6,2317 Q733.5,2317 733.5,2308 Z"/>
<path fill-rule="evenodd" d="M763.4,2259.8 H771.6 V2277.3 Q774.3,2273.8 778.2,2273.8 Q785.1,2273.8 785.1,2283 V2307.5 Q785.1,2317 778.2,2317 Q774.3,2317 771.6,2313.5 V2316.2 H763.4 Z M771.6,2285.5 V2305.5 Q771.6,2308.6 774.5,2308.6 Q777.4,2308.6 777.4,2305.5 V2285.5 Q777.4,2282.4 774.5,2282.4 Q771.6,2282.4 771.6,2285.5 Z"/>
<path fill-rule="evenodd" d="M802.2,2273.8 Q813.6,2273.8 813.6,2285 V2297.2 H799 V2305 Q799,2308.7 802.2,2308.7 Q805.4,2308.7 805.4,2305 V2302 H813.6 V2306 Q813.6,2317 802.2,2317 Q790.9,2317 790.9,2306 V2285 Q790.9,2273.8 802.2,2273.8 Z M799,2290.6 V2285.2 Q799,2282 802.2,2282 Q805.4,2282 805.4,2285.2 V2290.6 Z"/>
<path d="M945,2223.4 L1002.6,2253.7 L945,2284.3 Z"/>
</g>
</svg>

</div></body></html>
